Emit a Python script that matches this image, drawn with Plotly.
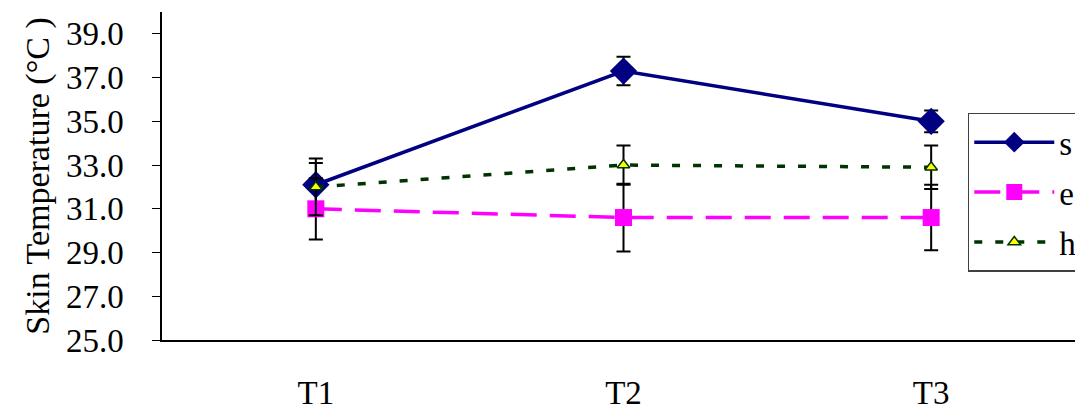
import plotly.graph_objects as go

# data
times = ['T1', 'T2', 'T3']
s_vals = [32.1, 37.3, 35.0]
s_err = [1.0, 0.65, 0.5]
e_vals = [31.0, 30.6, 30.6]
e_err = [1.4, 1.55, 1.5]
h_vals = [32.0, 33.0, 32.9]
h_err = [1.3, 0.9, 1.0]

font_name = 'Liberation Serif'
fsize = 33
err_style = dict(type='data', color='black', thickness=2, width=7)

fig = go.Figure()

fig.add_trace(go.Scatter(
    x=times, y=s_vals, name='s', mode='lines+markers', legendgroup='s',
    line=dict(color='#000080', width=3.5),
    marker=dict(symbol='diamond', size=21, color='#000080'),
    error_y=dict(array=s_err, **err_style),
))
fig.add_trace(go.Scatter(
    x=times, y=e_vals, name='e', mode='lines+markers', legendgroup='e',
    line=dict(color='#ff00ff', width=3.5, dash='26px,13px'),
    marker=dict(symbol='square', size=17, color='#ff00ff'),
    error_y=dict(array=e_err, **err_style),
))
fig.add_trace(go.Scatter(
    x=times, y=h_vals, name='h', mode='lines+markers', legendgroup='h',
    line=dict(color='#003300', width=3.5, dash='8px,13px'),
    marker=dict(symbol='triangle-up', size=11, color='#ffff00',
                line=dict(color='#003300', width=1.5)),
    error_y=dict(array=h_err, **err_style),
))

# the page body adds an 8px offset, so margins are shifted to compensate
fig.update_layout(
    width=1083, height=410,
    margin=dict(l=154, r=6, t=4, b=78, autoexpand=False),
    paper_bgcolor='white', plot_bgcolor='white',
    font=dict(family=font_name, size=fsize, color='black'),
    showlegend=True,
    legend=dict(x=0.873, y=0.693, xanchor='left', yanchor='top',
                bgcolor='white', bordercolor='#404040', borderwidth=1.5,
                font=dict(family=font_name, size=fsize), tracegroupgap=4,
                itemwidth=80),
)
fig.update_xaxes(
    type='category', range=[-0.5, 2.5], showline=True, linecolor='black',
    linewidth=1.5, showgrid=False, ticks='', ticklabelstandoff=23,
    automargin=False, tickfont=dict(family=font_name, size=fsize),
)
fig.update_yaxes(
    range=[25, 40], tickvals=[25, 27, 29, 31, 33, 35, 37, 39],
    tickformat='.1f', showline=True, linecolor='black', linewidth=1.5,
    showgrid=False, ticks='outside', ticklen=8, tickcolor='black',
    ticklabelstandoff=22, zeroline=False, automargin=False,
    tickfont=dict(family=font_name, size=fsize),
    title=dict(text='Skin Temperature (°C )', standoff=6,
               font=dict(family=font_name, size=34)),
)

fig.write_html('out.html')
